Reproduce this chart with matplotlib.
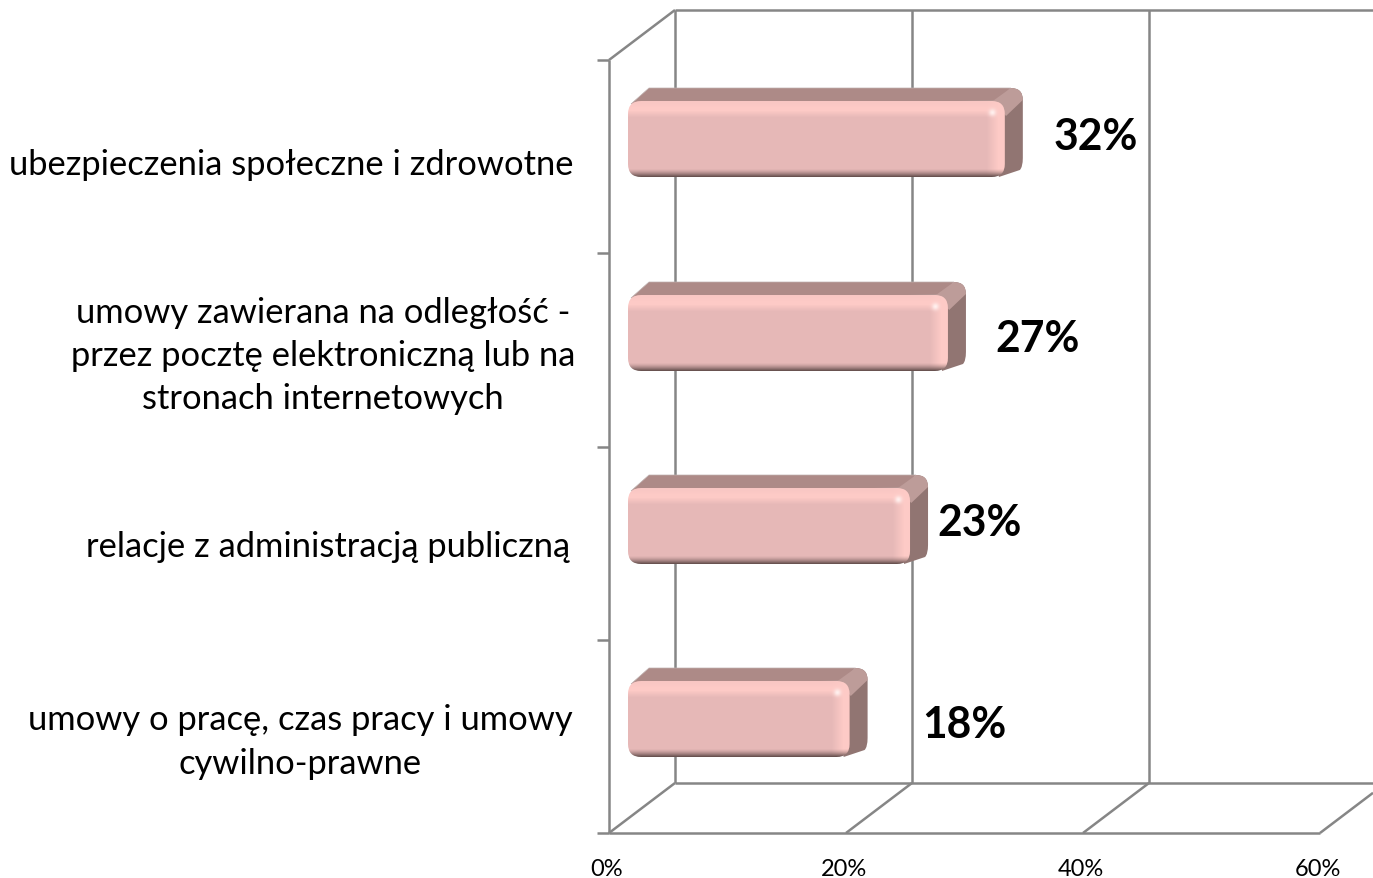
import matplotlib
matplotlib.use("Agg")
import matplotlib.pyplot as plt
import numpy as np
from matplotlib.patches import PathPatch, Polygon
from matplotlib.path import Path

W, H = 1373, 879
plt.rcParams["font.family"] = ["Lato", "DejaVu Sans"]

categories = ["umowy o pracę, czas pracy i umowy\ncywilno-prawne",
              "relacje z administracją publiczną",
              "umowy zawierana na odległość -\nprzez pocztę elektroniczną lub na\nstronach internetowych",
              "ubezpieczenia społeczne i zdrowotne"]
values = [18.7, 23.8, 27.0, 31.8]
value_labels = ["18%", "23%", "27%", "32%"]
x_ticks = [0, 20, 40, 60]
x_tick_labels = ["0%", "20%", "40%", "60%"]

# front plane of the box: 0-60% = 609..1320 px, 0-4 = 834..61 px
X0, X1, Y0, Y1 = 609, 1320, 834, 61
fig = plt.figure(figsize=(W / 100, H / 100), dpi=100, facecolor="white")
ax = fig.add_axes([X0 / W, 1 - Y0 / H, (X1 - X0) / W, (Y0 - Y1) / H])
ax.axis("off")

SX = 60 / (X1 - X0)
SY = 4 / (Y0 - Y1)


def px(x, y):
    """pixel position -> data position"""
    return (x - X0) * SX, (Y0 - y) * SY


DX, DY = 66 * SX, 50 * SY  # wall depth
GRID = "#868686"
line = dict(color=GRID, lw=1.8, clip_on=False, solid_capstyle="butt")

# walls
right = px(W, 0)[0]
for t in x_ticks:
    if t + DX <= right:
        ax.plot([t + DX, t + DX], [DY, 4 + DY], zorder=1, **line)
    if t == 60:
        k = (right - t) / DX
        ax.plot([t, right], [0, k * DY], zorder=1, **line)
    else:
        ax.plot([t, t + DX], [0, DY], zorder=1, **line)
ax.plot([DX, right], [4 + DY, 4 + DY], zorder=1, **line)
ax.plot([DX, right], [DY, DY], zorder=1, **line)
ax.plot([0, DX], [4, 4 + DY], zorder=1, **line)
ax.plot([0, 0], [0, 4], zorder=1, **line)
ax.plot([0, 60], [0, 0], zorder=1, **line)
for i in range(5):
    ax.plot([-12 * SX, 0], [i, i], zorder=1, **line)


def rounded(x0, y0, x1, y1, r=13):
    rx, ry = r * SX, r * SY
    verts = [(x0 + rx, y0), (x1 - rx, y0), (x1, y0), (x1, y0 + ry), (x1, y1 - ry), (x1, y1), (x1 - rx, y1),
             (x0 + rx, y1), (x0, y1), (x0, y1 - ry), (x0, y0 + ry), (x0, y0), (x0 + rx, y0), (x0 + rx, y0)]
    codes = [Path.MOVETO, Path.LINETO, Path.CURVE3, Path.CURVE3, Path.LINETO, Path.CURVE3, Path.CURVE3,
             Path.LINETO, Path.CURVE3, Path.CURVE3, Path.LINETO, Path.CURVE3, Path.CURVE3, Path.CLOSEPOLY]
    return Path(verts, codes)


def shade(w, h):
    """bevel shading of the front face"""
    base = np.array([230, 184, 183.0])
    light = np.array([253, 202, 198.0])
    dark = np.array([105, 82, 80.0])
    img = np.tile(base, (h, w, 1))
    for r in range(16):
        k = 1.0 if r < 9 else 1 - (r - 9) / 7
        img[r, :] = base + (light - base) * k * (0.8 + 0.2 * min(r, 6) / 6)
    for c in range(w):
        d = w - 1 - c
        if d < 18:
            k = 1.0 if d < 6 else 1 - (d - 6) / 12
            img[:, c] = img[:, c] + (light - img[:, c]) * k
    for r in range(h):
        d = h - 1 - r
        if d < 8:
            k = (1 - d / 8) ** 1.5
            img[r, :] = img[r, :] + (dark - img[r, :]) * k
    # specular dot on the inner corner
    yy, xx = np.mgrid[0:h, 0:w]
    g = np.exp(-(((xx - (w - 13)) / 3.5) ** 2 + ((yy - 11) / 3.5) ** 2))[..., None]
    img = img + (np.array([255, 240, 238.0]) - img) * g
    return img / 255


BAR_L = 628
BAR_H = 76
BX, BY = 18 * SX, 13 * SY
label_pos = [(964, 725), (980, 523), (1038, 339), (1096, 137)]
text_pos = [(300, 742), (328, 547), (323, 356), (291, 165)]
bar_bottoms = [758, 565, 372, 178]

for i, v in enumerate(values):
    x0 = (BAR_L - X0) * SX
    x1 = x0 + v
    y0 = (Y0 - bar_bottoms[i]) * SY
    y1 = y0 + BAR_H * SY
    rx, ry = 6 * SX, 6 * SY
    # side face, with the rounded outer corners
    side = Path([(x1 - rx, y0), (x1 + BX - rx / 2, y0 + BY - ry), (x1 + BX, y0 + BY - ry / 2), (x1 + BX, y0 + BY + ry),
                 (x1 + BX, y1 + BY - 2 * ry), (x1 + BX, y1 + BY), (x1 + BX - 2 * rx, y1 + BY), (x1 - rx, y1), (x1 - rx, y0)],
                [Path.MOVETO, Path.LINETO, Path.CURVE3, Path.CURVE3, Path.LINETO, Path.CURVE3, Path.CURVE3, Path.LINETO,
                 Path.CLOSEPOLY])
    ax.add_patch(PathPatch(side, fc="#917572", ec="none", zorder=3, clip_on=False))
    ax.add_patch(Polygon([(x0 + rx / 2, y1 - ry / 2), (x0 + BX + rx / 2, y1 + BY), (x1 + BX - 2 * rx, y1 + BY), (x1 - rx, y1)],
                         fc="#AD8A87", ec="#BFB0AF", lw=0.5, zorder=3, clip_on=False))
    corner = Path([(x1 - 2 * rx, y1), (x1 + BX - 2 * rx, y1 + BY), (x1 + BX, y1 + BY), (x1 + BX, y1 + BY - 2 * ry),
                   (x1 + 0.2 * rx, y1 - 2.5 * ry), (x1 - 2 * rx, y1)],
                  [Path.MOVETO, Path.LINETO, Path.CURVE3, Path.CURVE3, Path.LINETO, Path.CLOSEPOLY])
    ax.add_patch(PathPatch(corner, fc="#BD9C99", ec="none", zorder=3, clip_on=False))
    # front face
    w = int(round(v / SX))
    im = ax.imshow(shade(w, BAR_H), extent=[x0, x1, y0, y1], origin="upper", aspect="auto", zorder=4,
                   interpolation="nearest")
    clip = PathPatch(rounded(x0, y0, x1, y1), fc="none", ec="none", transform=ax.transData)
    ax.add_patch(clip)
    im.set_clip_path(clip)
    # labels
    lx, ly = px(*label_pos[i])
    ax.text(lx, ly, value_labels[i], fontsize=30.7, fontweight="bold", ha="center", va="center", color="black", zorder=6)
    tx, ty = px(*text_pos[i])
    ax.text(tx, ty, categories[i], fontsize=24.8, ha="center", va="center", color="black", linespacing=1.44,
            multialignment="center", zorder=6)

for t, s in zip(x_ticks, x_tick_labels):
    ax.text(t - 2 * SX, px(0, 870)[1], s, fontsize=17, ha="center", va="center", color="black")

ax.set_xlim(0, 60)
ax.set_ylim(0, 4)
fig.savefig("out.png", dpi=100)
